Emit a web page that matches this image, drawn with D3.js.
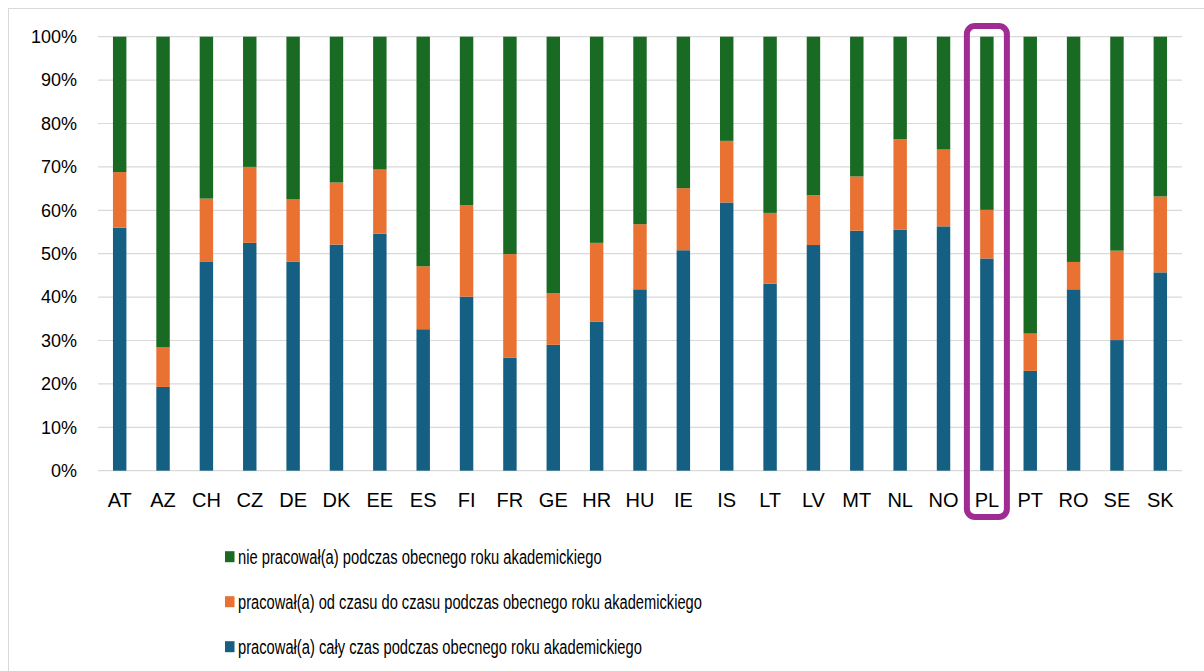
<!DOCTYPE html>
<html>
<head>
<meta charset="utf-8">
<script src="https://cdn.jsdelivr.net/npm/d3@7"></script>
<style>
  html, body { margin: 0; padding: 0; background: #fff; }
  svg { display: block; font-family: "Liberation Sans", Arial, sans-serif; }
</style>
</head>
<body>
<div class="chartContainer"></div>
<script>
const countries = ["AT","AZ","CH","CZ","DE","DK","EE","ES","FI","FR","GE","HR","HU","IE","IS","LT","LV","MT","NL","NO","PL","PT","RO","SE","SK"];
// share of students (%) per country
const fullTime = [56.0,19.3,48.1,52.5,48.2,52.1,54.6,32.6,40.1,26.0,29.0,34.3,41.8,50.8,61.8,43.1,52.0,55.3,55.5,56.3,48.9,23.0,41.8,30.1,45.7];
const partTime = [12.8,9.2,14.6,17.5,14.4,14.3,14.8,14.5,21.1,23.9,11.9,18.2,15.0,14.3,14.2,16.3,11.5,12.5,20.9,17.7,11.2,8.6,6.3,20.6,17.5];
const notWorking = [31.2,71.5,37.3,30.0,37.4,33.6,30.6,52.9,38.8,50.1,59.1,47.5,43.2,34.9,24.0,40.6,36.5,32.2,23.6,26.0,39.9,68.4,51.9,49.3,36.8];
const seriesKeys = ["full", "part", "none"];
const seriesNames = {
  none: "nie pracował(a) podczas obecnego roku akademickiego",
  part: "pracował(a) od czasu do czasu podczas obecnego roku akademickiego",
  full: "pracował(a) cały czas podczas obecnego roku akademickiego"
};
const colors = { full: "#156082", part: "#E97132", none: "#196B24" };
const legendOrder = ["none", "part", "full"];
const highlighted = "PL";

const w = 1204;
const h = 671;
const margin = { left: 98, right: 22, top: 36.7, bottom: 200.3 };

const dataset = countries.map((c, i) => ({
  country: c,
  full: fullTime[i] / 100,
  part: partTime[i] / 100,
  none: notWorking[i] / 100
}));

const svg = d3.select(".chartContainer")
  .append("svg")
  .attr("width", w)
  .attr("height", h);

// chart frame
svg.append("rect")
  .attr("x", 8.5).attr("y", 8.5)
  .attr("width", 1210).attr("height", 700)
  .attr("fill", "none")
  .attr("stroke", "#D9D9D9")
  .attr("stroke-width", 1);

const xScale = d3.scaleBand()
  .domain(countries)
  .range([margin.left, w - margin.right])
  .paddingInner(0.69)
  .paddingOuter(0.345);

const yScale = d3.scaleLinear()
  .domain([0, 1])
  .range([h - margin.bottom, margin.top]);

// gridlines
svg.append("g")
  .selectAll("line")
  .data(yScale.ticks(10))
  .enter()
  .append("line")
  .attr("x1", margin.left)
  .attr("x2", w - margin.right)
  .attr("y1", (d) => yScale(d))
  .attr("y2", (d) => yScale(d))
  .attr("stroke", "#D9D9D9")
  .attr("stroke-width", 1.2);

// y axis labels
const yAxis = d3.axisLeft(yScale)
  .ticks(10)
  .tickFormat(d3.format(".0%"))
  .tickSize(0)
  .tickPadding(21);

svg.append("g")
  .attr("transform", "translate(" + margin.left + ",0)")
  .call(yAxis)
  .call((g) => g.select(".domain").remove())
  .selectAll("text")
  .attr("fill", "#000")
  .style("font-size", "18px")
  .style("font-family", "Liberation Sans, Arial, sans-serif");

// stacked bars
const stack = d3.stack().keys(seriesKeys);
const layers = stack(dataset);

svg.append("g")
  .selectAll("g")
  .data(layers)
  .enter()
  .append("g")
  .attr("fill", (d) => colors[d.key])
  .selectAll("rect")
  .data((d) => d)
  .enter()
  .append("rect")
  .attr("x", (d) => xScale(d.data.country))
  .attr("y", (d) => yScale(d[1]))
  .attr("width", xScale.bandwidth())
  .attr("height", (d) => yScale(d[0]) - yScale(d[1]));

// x axis labels
const xAxis = d3.axisBottom(xScale).tickSize(0).tickPadding(22);
svg.append("g")
  .attr("transform", "translate(0," + (h - margin.bottom) + ")")
  .call(xAxis)
  .call((g) => g.select(".domain").remove())
  .selectAll("text")
  .attr("fill", "#000")
  .style("font-size", "20px")
  .style("font-family", "Liberation Sans, Arial, sans-serif");

// highlight box around PL
const hx = xScale(highlighted) + xScale.bandwidth() / 2;
svg.append("rect")
  .attr("x", hx - 20)
  .attr("y", 26)
  .attr("width", 40)
  .attr("height", 491)
  .attr("rx", 8)
  .attr("fill", "none")
  .attr("stroke", "#A02B93")
  .attr("stroke-width", 6);

// legend (text squeezed horizontally to mimic the narrow original font)
const legendWidths = { none: 364, part: 464, full: 404 };
const legend = svg.append("g").attr("id", "legend");
const items = legend.selectAll("g")
  .data(legendOrder)
  .enter()
  .append("g")
  .attr("transform", (d, i) => "translate(225," + (556.7 + i * 45) + ")");

items.append("rect")
  .attr("x", 0)
  .attr("y", -5.5)
  .attr("width", 9.5)
  .attr("height", 11)
  .attr("fill", (d) => colors[d]);

items.append("text")
  .attr("x", 0)
  .attr("y", 0)
  .attr("dy", "0.35em")
  .style("font-size", "21px")
  .style("font-family", "Liberation Sans, Arial, sans-serif")
  .attr("fill", "#000")
  .text((d) => seriesNames[d])
  .each(function (d) {
    const natural = this.getComputedTextLength();
    const sx = legendWidths[d] / natural;
    d3.select(this).attr("transform", "translate(13,0) scale(" + sx + ",1)");
  });
</script>
</body>
</html>
